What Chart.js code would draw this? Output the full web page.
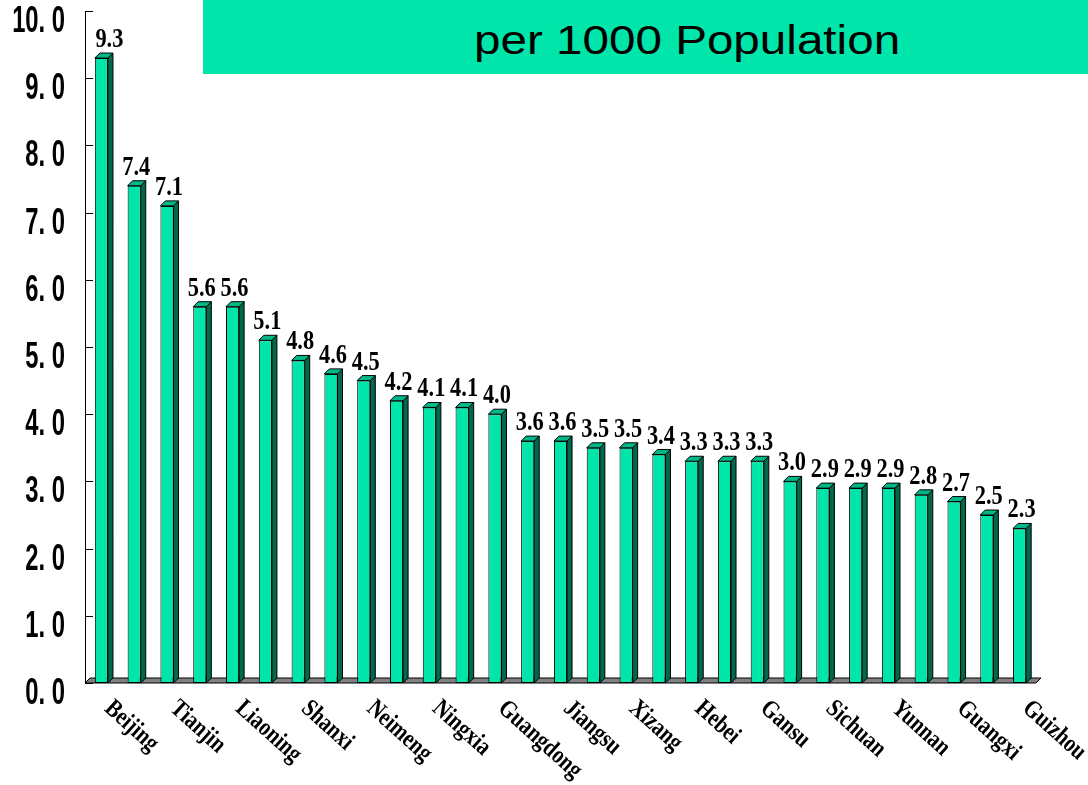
<!DOCTYPE html>
<html>
<head>
<meta charset="utf-8">
<script src="https://cdn.jsdelivr.net/npm/chart.js@4.4.0/dist/chart.umd.min.js"></script>
<style>
  body { margin: 0; background: #fff; }
  #wrap { position: relative; width: 1088px; height: 785px; overflow: hidden; }
  #titulo {
    position: absolute; left: 203px; top: 0; width: 900px; height: 74px;
    background: #00e5aa;
  }
  #titulo span {
    position: absolute; left: 474px; top: 0; width: 426px; white-space: nowrap;
    font-family: "Liberation Sans", Arial, sans-serif; font-size: 40px; line-height: 40px;
    color: #000; transform-origin: 0 0; transform: translate(-203px, 20px) scaleX(1.19);
  }
</style>
</head>
<body>
<div id="wrap">
  <canvas id="grafico" width="1088" height="785"></canvas>
  <div id="titulo"><span>per 1000 Population</span></div>
</div>
<script>
// categorias (so metade aparece no eixo)
const provincias = ['Beijing', '', 'Tianjin', '', 'Liaoning', '', 'Shanxi', '', 'Neimeng', '',
    'Ningxia', '', 'Guangdong', '', 'Jiangsu', '', 'Xizang', '', 'Hebei', '', 'Gansu', '',
    'Sichuan', '', 'Yunnan', '', 'Guangxi', '', 'Guizhou'];
const valores = [9.3, 7.4, 7.1, 5.6, 5.6, 5.1, 4.8, 4.6, 4.5, 4.2, 4.1, 4.1, 4.0, 3.6, 3.6,
    3.5, 3.5, 3.4, 3.3, 3.3, 3.3, 3.0, 2.9, 2.9, 2.9, 2.8, 2.7, 2.5, 2.3];
const eixoY = { min: 0, max: 10, passo: 1 };

const corFrente = '#00e5aa';
const corLado = '#00694c';
const corTopo = '#00b887';
const prof = 5;

function formatarTick(v) {
    return v.toFixed(1).replace('.', '. ');
}

// chao cinza, faces 3D, rotulos
const barras3d = {
    id: 'barras3d',
    beforeDatasetsDraw(chart) {
        const { ctx, chartArea: a } = chart;
        ctx.save();
        ctx.fillStyle = '#808080';
        ctx.strokeStyle = '#000';
        ctx.lineWidth = 1;
        ctx.beginPath();
        ctx.moveTo(a.left, a.bottom);
        ctx.lineTo(a.left + prof, a.bottom - prof);
        ctx.lineTo(a.right + prof, a.bottom - prof);
        ctx.lineTo(a.right, a.bottom);
        ctx.closePath();
        ctx.fill();
        ctx.stroke();
        ctx.restore();
    },
    afterDatasetsDraw(chart) {
        const { ctx, chartArea: a } = chart;
        const meta = chart.getDatasetMeta(0);
        const y = chart.scales.y;
        ctx.save();
        ctx.strokeStyle = '#000';
        ctx.lineWidth = 1;
        meta.data.forEach((bar, i) => {
            const esq = bar.x - bar.width / 2;
            const dir = bar.x + bar.width / 2;
            const topo = bar.y;
            const base = bar.base;
            // lateral
            ctx.fillStyle = corLado;
            ctx.beginPath();
            ctx.moveTo(dir, topo);
            ctx.lineTo(dir + prof, topo - prof);
            ctx.lineTo(dir + prof, base - prof);
            ctx.lineTo(dir, base);
            ctx.closePath();
            ctx.fill();
            ctx.stroke();
            // topo
            ctx.fillStyle = corTopo;
            ctx.beginPath();
            ctx.moveTo(esq, topo);
            ctx.lineTo(esq + prof, topo - prof);
            ctx.lineTo(dir + prof, topo - prof);
            ctx.lineTo(dir, topo);
            ctx.closePath();
            ctx.fill();
            ctx.stroke();

            // valor acima da barra
            ctx.save();
            ctx.translate(bar.x + (i === 0 ? 8 : 2), topo - 11);
            ctx.scale(0.8, 1);
            ctx.fillStyle = '#000';
            ctx.font = 'bold 28px "Liberation Serif", "Times New Roman", serif';
            ctx.textAlign = 'center';
            ctx.textBaseline = 'alphabetic';
            ctx.fillText(valores[i].toFixed(1), 0, 0);
            ctx.restore();

            // nome da provincia, inclinado
            if (provincias[i]) {
                ctx.save();
                ctx.translate(bar.x + 2, a.bottom + 27);
                ctx.rotate(42 * Math.PI / 180);
                ctx.scale(0.9, 1.1);
                ctx.fillStyle = '#000';
                ctx.font = 'bold 23px "Liberation Serif", "Times New Roman", serif';
                ctx.textAlign = 'left';
                ctx.textBaseline = 'alphabetic';
                ctx.fillText(provincias[i], 0, 0);
                ctx.restore();
            }
        });
        // marcas do eixo Y para dentro + rotulos estreitos
        y.ticks.forEach(t => {
            const py = Math.round(y.getPixelForValue(t.value)) + 0.5;
            ctx.beginPath();
            ctx.moveTo(a.left, py);
            ctx.lineTo(a.left + 8, py);
            ctx.stroke();
            ctx.save();
            ctx.translate(65, py + 11);
            ctx.scale(0.66, 1);
            ctx.fillStyle = '#000';
            ctx.font = 'bold 36px "Liberation Sans", Arial, sans-serif';
            ctx.textAlign = 'right';
            ctx.textBaseline = 'middle';
            ctx.fillText(formatarTick(t.value), 0, 0);
            ctx.restore();
        });
        ctx.restore();
    }
};

const ctx = document.getElementById('grafico').getContext('2d');
new Chart(ctx, {
    type: 'bar',
    data: {
        labels: provincias,
        datasets: [{
            data: valores,
            backgroundColor: corFrente,
            borderColor: '#000',
            borderWidth: 1,
            borderSkipped: false,
            categoryPercentage: 1,
            barPercentage: 0.4
        }]
    },
    options: {
        responsive: false,
        animation: false,
        layout: { padding: { top: 11, right: 52, bottom: 102, left: 0 } },
        plugins: {
            legend: { display: false },
            tooltip: { enabled: false }
        },
        scales: {
            x: {
                display: false
            },
            y: {
                min: eixoY.min,
                max: eixoY.max,
                afterFit(scale) {
                    scale.width = 85;
                    scale.paddingTop = 0;
                    scale.paddingBottom = 0;
                },
                grid: { display: false, drawTicks: false },
                border: { display: true, color: '#000', width: 1 },
                ticks: {
                    display: false,
                    stepSize: eixoY.passo
                }
            }
        }
    },
    plugins: [barras3d]
});
</script>
</body>
</html>
